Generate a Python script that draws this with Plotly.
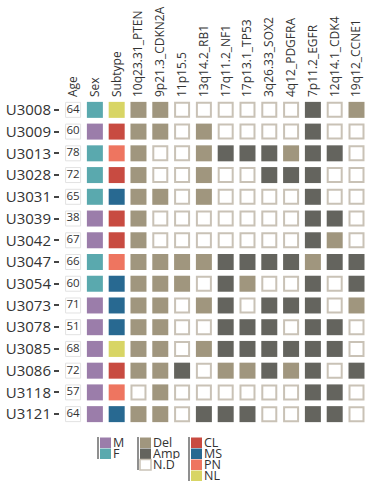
import plotly.graph_objects as go

# ---- data -------------------------------------------------------------
samples = ["U3008", "U3009", "U3013", "U3028", "U3031", "U3039", "U3042", "U3047",
           "U3054", "U3073", "U3078", "U3085", "U3086", "U3118", "U3121"]
ages = [64, 60, 78, 72, 65, 38, 67, 66, 60, 71, 51, 68, 72, 57, 64]
sex = ["F", "M", "F", "F", "F", "M", "M", "F", "F", "M", "M", "M", "M", "M", "M"]
subtype = ["NL", "CL", "PN", "CL", "MS", "CL", "CL", "PN", "MS", "MS", "MS", "NL", "CL", "PN", "MS"]
genes = ["10q23.31_PTEN", "9p21.3_CDKN2A", "11p15.5", "13q14.2_RB1", "17q11.2_NF1",
         "17p13.1_TP53", "3q26.33_SOX2", "4q12_PDGFRA", "7p11.2_EGFR", "12q14.1_CDK4",
         "19q12_CCNE1"]
# copy-number call per sample and gene: D = Del, A = Amp, N = N.D
cna_calls = [
    "D D N N N N N N A N D",
    "D D N D N N N N A N N",
    "D N N D A A A D A A N",
    "D N N D N N A A A N N",
    "D D N D N N N N A N N",
    "D N N N N N N N A A N",
    "D N N N N N N N A D N",
    "D D D D A A A A D A A",
    "D D D N A D N N A N A",
    "D D N D A N A A A N D",
    "D D N N A A A N A A N",
    "D D N D A A A A A A N",
    "D D A N D D A D A N A",
    "N D N N N N N N A A N",
    "D D N A A A N N A A N",
]

columns = ["Age", "Sex", "Subtype"] + genes

# ---- styling ----------------------------------------------------------
FONT = "Open Sans, sans-serif"
TXT = "#333333"
sex_colors = {"M": "#9b7daa", "F": "#5aa9ae"}
subtype_colors = {"CL": "#c84b41", "MS": "#286991", "PN": "#ee7560", "NL": "#d8d565"}
cna_style = {
    "D": dict(name="Del", color="#a0967e", line=dict(width=0), size=16),
    "A": dict(name="Amp", color="#64645e", line=dict(width=0), size=16),
    "N": dict(name="N.D", color="#ffffff", line=dict(width=2, color="#c9c2b6"), size=14),
}

fig = go.Figure()

# age column: boxed numbers
fig.add_trace(go.Scatter(
    x=[0] * len(samples), y=list(range(len(samples))),
    mode="markers+text", text=[str(a) for a in ages],
    textposition="middle center",
    textfont=dict(family=FONT, size=11.5, color=TXT),
    marker=dict(symbol="square", size=15, color="white",
                line=dict(width=1, color="#e2e2e2")),
    hoverinfo="skip", showlegend=False))

# sex column
for key, col in sex_colors.items():
    rows = [i for i, s in enumerate(sex) if s == key]
    fig.add_trace(go.Scatter(
        x=[1] * len(rows), y=rows, mode="markers",
        marker=dict(symbol="square", size=16, color=col, line=dict(width=0)),
        name=key, showlegend=False))

# subtype column
for key, col in subtype_colors.items():
    rows = [i for i, s in enumerate(subtype) if s == key]
    fig.add_trace(go.Scatter(
        x=[2] * len(rows), y=rows, mode="markers",
        marker=dict(symbol="square", size=16, color=col, line=dict(width=0)),
        name=key, showlegend=False))

# copy-number grid
calls = [row.split() for row in cna_calls]
for code, st in cna_style.items():
    xs, ys = [], []
    for i, row in enumerate(calls):
        for j, c in enumerate(row):
            if c == code:
                xs.append(3 + j)
                ys.append(i)
    fig.add_trace(go.Scatter(
        x=xs, y=ys, mode="markers",
        marker=dict(symbol="square", size=st["size"], color=st["color"], line=st["line"]),
        name=st["name"], showlegend=False))

# ---- legend blocks drawn below the grid --------------------------------
L, W, T, H = 60, 305, 99, 326


def px(x):
    return (x - L) / W


def py(y):
    return (T + H - y) / H


shapes = []
annotations = []


def legend_block(x0, y0, items, step=11):
    shapes.append(dict(type="line", xref="paper", yref="paper",
                       x0=px(x0 - 2), x1=px(x0 - 2), y0=py(y0), y1=py(y0 + step * len(items)),
                       line=dict(color="#8f8f8f", width=2)))
    for k, (label, fill, border) in enumerate(items):
        top = y0 + step * k
        shapes.append(dict(type="rect", xref="paper", yref="paper",
                           x0=px(x0), x1=px(x0 + 11), y0=py(top + 11), y1=py(top + 0.5),
                           fillcolor=fill,
                           line=dict(color=border or fill, width=1.5 if border else 0)))
        annotations.append(dict(xref="paper", yref="paper", x=px(x0 + 12), y=py(top + 5.5),
                                text=label, showarrow=False, xanchor="left", yanchor="middle",
                                font=dict(family=FONT, size=12.5, color=TXT),
                                borderpad=0, height=11))


legend_block(100, 437, [("M", sex_colors["M"], None), ("F", sex_colors["F"], None)])
legend_block(140, 437, [(st["name"], st["color"], st["line"].get("color")) for st in cna_style.values()])
legend_block(191, 437, [(k, v, None) for k, v in subtype_colors.items()])

fig.update_layout(
    width=365, height=487,
    margin=dict(l=L, r=0, t=T, b=487 - T - H),
    paper_bgcolor="white", plot_bgcolor="white",
    font=dict(family=FONT, color=TXT),
    shapes=shapes, annotations=annotations,
    xaxis=dict(side="top", range=[-0.6, 13.39], tickmode="array",
               tickvals=list(range(len(columns))), ticktext=columns,
               tickangle=-90, tickfont=dict(family=FONT, size=12, color=TXT),
               showgrid=False, zeroline=False, showline=False, ticks="",
               ticklabelstandoff=1, fixedrange=True),
    yaxis=dict(range=[len(samples) - 0.5, -0.5], tickmode="array",
               tickvals=list(range(len(samples))), ticktext=samples,
               tickfont=dict(family=FONT, size=15, color=TXT),
               showgrid=False, zeroline=False, showline=False,
               ticks="outside", ticklen=5, tickwidth=1.5, tickcolor="#444444",
               ticklabelstandoff=0, fixedrange=True),
)

fig.write_html("out.html")
